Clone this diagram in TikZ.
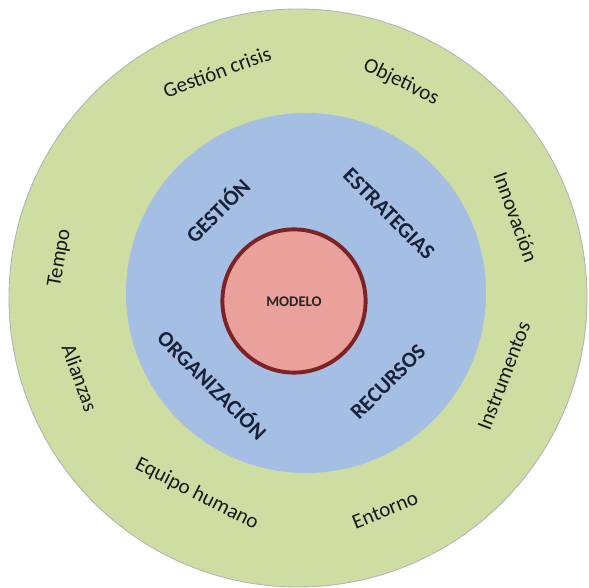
\documentclass[tikz,border=0pt]{standalone}
\usepackage{fontspec}
\setmainfont{Carlito}
\definecolor{verde}{RGB}{206,221,162}
\definecolor{azul}{RGB}{165,191,228}
\definecolor{rosa}{RGB}{234,161,155}
\definecolor{granate}{RGB}{125,35,38}
\definecolor{marino}{RGB}{25,33,56}
\tikzset{
  externo/.style={font=\fontsize{15}{18}\selectfont, text=black!90, inner sep=0pt},
  interno/.style={font=\fontsize{15.5}{18}\selectfont\bfseries, text=marino, inner sep=0pt},
  anillo/.style={circle, inner sep=0pt},
}
\begin{document}
\begin{tikzpicture}[scale=1]
\useasboundingbox (-7.45,-7.25) rectangle (7.275,7.45);

\node (verde) at (0,0) [anillo, minimum size=14.45cm, fill=verde, draw=gray!60, line width=0.6pt]{};
\node (azul) at (0.2,0.125) [anillo, minimum size=9cm, fill=azul]{};
\node (centro) at (-0.1,-0.075) [anillo, minimum size=3.58cm, fill=rosa, draw=granate, line width=2.8pt]{};

\node (M) at (-0.1,-0.1) [font=\fontsize{10.5}{12}\selectfont\bfseries, text=black!85]{MODELO};

 \node (G) at (-2.025,2.2) [interno, rotate=45]{GESTIÓN};
 \node (E) at (2.275,2.1) [interno, rotate=-45]{ESTRATEGIAS};
 \node (O) at (-2.125,-2.15) [interno, rotate=-45]{ORGANIZACIÓN};
 \node (R) at (2.25,-2.1) [interno, rotate=45]{RECURSOS};

\node (crisis) at (-2.025,5.65) [externo, rotate=20]{Gestión crisis};
\node (obj) at (2.575,5.4) [externo, rotate=-26]{Objetivos};
\node (innov) at (5.45,2.025) [externo, rotate=-70]{Innovación};
\node (instr) at (5.15,-1.95) [externo, rotate=69]{Instrumentos};
\node (ent) at (2.175,-5.3) [externo, rotate=22]{Entorno};
\node (equipo) at (-2.525,-4.9) [externo, rotate=-27]{Equipo humano};
\node (alian) at (-5.45,-2.0) [externo, rotate=-70]{Alianzas};
\node (tempo) at (-5.95,1.0) [externo, rotate=80]{Tempo};

 \end{tikzpicture}
\end{document}
